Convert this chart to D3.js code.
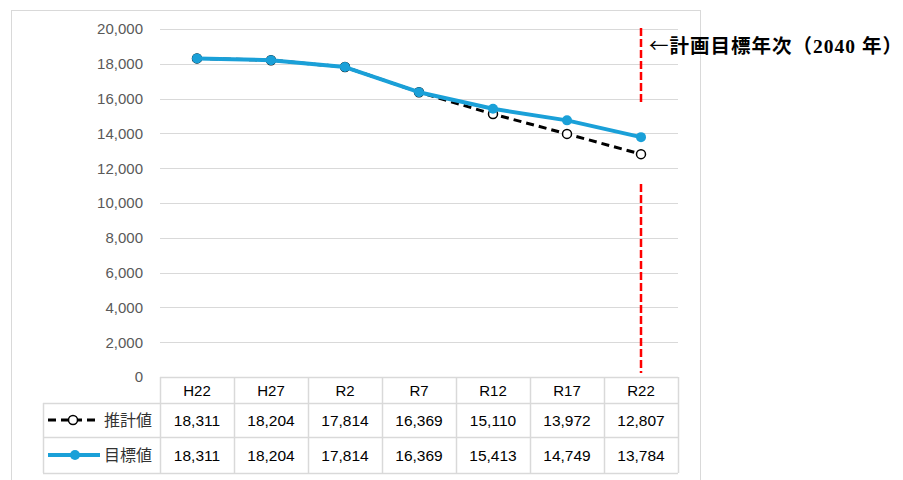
<!DOCTYPE html>
<html>
<head>
<meta charset="utf-8">
<script src="https://cdn.jsdelivr.net/npm/d3@7"></script>
<style>
body { margin: 0; background: #fff; }
text { font-family: "Liberation Sans", Arial, sans-serif; }
</style>
</head>
<body>
<script>
// データ
var categories = ["H22", "H27", "R2", "R7", "R12", "R17", "R22"];
var estimate = [18311, 18204, 17814, 16369, 15110, 13972, 12807]; // 推計値
var target = [18311, 18204, 17814, 16369, 15413, 14749, 13784];   // 目標値
var yTicks = [0, 2000, 4000, 6000, 8000, 10000, 12000, 14000, 16000, 18000, 20000];

var W = 903, H = 480;
var plot = {left: 160, right: 678, top: 29, bottom: 377};

var svg = d3.select("body").append("svg")
  .attr("width", W)
  .attr("height", H);

// 外枠
svg.append("rect")
  .attr("x", 11.5).attr("y", 10.5)
  .attr("width", 689).attr("height", 500)
  .attr("fill", "none").attr("stroke", "#d9d9d9");

var x = d3.scaleBand().domain(categories).range([plot.left, plot.right]);
var y = d3.scaleLinear().domain([0, 20000]).range([plot.bottom, plot.top]);

// グリッド線
svg.append("g").selectAll("line")
  .data(yTicks.filter(function(d) { return d > 0; }))
  .enter().append("line")
  .attr("x1", plot.left).attr("x2", plot.right)
  .attr("y1", function(d) { return Math.round(y(d)) + 0.5; })
  .attr("y2", function(d) { return Math.round(y(d)) + 0.5; })
  .attr("stroke", "#d9d9d9").attr("stroke-width", 1);

// Y軸
var yAxis = d3.axisLeft(y).tickValues(yTicks).tickFormat(d3.format(",")).tickSize(0).tickPadding(0);
var gy = svg.append("g")
  .attr("transform", "translate(143,0)")
  .call(yAxis);
gy.select(".domain").remove();
gy.selectAll("text")
  .attr("fill", "#595959")
  .style("font-size", "15px");

// 計画目標年次の線
var xr = x("R22") + x.bandwidth() / 2;
[[28, 103], [184, 373]].forEach(function(s) {
  svg.append("line")
    .attr("x1", xr).attr("x2", xr)
    .attr("y1", s[0]).attr("y2", s[1])
    .attr("stroke", "#ff0000").attr("stroke-width", 2.5)
    .attr("stroke-dasharray", "8,3");
});

var note = svg.append("text")
  .attr("x", 649).attr("y", 53)
  .style("font-family", "'Liberation Serif', 'Noto Sans CJK JP', serif")
  .style("font-size", "19.5px")
  .style("font-weight", "bold")
  .style("letter-spacing", "1px")
  .attr("fill", "#000");
note.append("tspan")
  .style("font-family", "'Noto Sans CJK JP', sans-serif")
  .style("font-weight", "normal")
  .text("←");
note.append("tspan").text("計画目標年次（2040 年）");

var cx = function(d, i) { return x(categories[i]) + x.bandwidth() / 2; };
var line = d3.line().x(cx).y(function(d) { return y(d); });

// 推計値（破線）
svg.append("path")
  .datum(estimate)
  .attr("d", line)
  .attr("fill", "none")
  .attr("stroke", "#000").attr("stroke-width", 3)
  .attr("stroke-dasharray", "8,5");
svg.append("g").selectAll("circle")
  .data(estimate).enter().append("circle")
  .attr("cx", cx).attr("cy", function(d) { return y(d); })
  .attr("r", 4.5)
  .attr("fill", "#fff").attr("stroke", "#000").attr("stroke-width", 1.5);

// 目標値
var blue = "#1aa0d8";
svg.append("path")
  .datum(target)
  .attr("d", line)
  .attr("fill", "none")
  .attr("stroke", blue).attr("stroke-width", 4)
  .attr("stroke-linejoin", "round");
svg.append("g").selectAll("circle")
  .data(target).enter().append("circle")
  .attr("cx", cx).attr("cy", function(d) { return y(d); })
  .attr("r", 5)
  .attr("fill", blue);

// データテーブル
var rows = [
  {name: "推計値", values: estimate, dashed: true},
  {name: "目標値", values: target, dashed: false}
];
var rowY = [377, 403, 437, 473];
var legendLeft = 43;
var tbl = svg.append("g");
var gridColor = "#d9d9d9";

// 横線
tbl.append("line")
  .attr("x1", plot.left).attr("x2", plot.right)
  .attr("y1", rowY[0] + 0.5).attr("y2", rowY[0] + 0.5)
  .attr("stroke", gridColor).attr("stroke-width", 1.5);
rowY.slice(1).forEach(function(ry) {
  tbl.append("line")
    .attr("x1", legendLeft).attr("x2", plot.right)
    .attr("y1", ry + 0.5).attr("y2", ry + 0.5)
    .attr("stroke", gridColor).attr("stroke-width", 1.5);
});
// 縦線
var vx = categories.map(function(c) { return x(c); }).concat([plot.right]);
vx.forEach(function(v) {
  tbl.append("line")
    .attr("x1", v + 0.5).attr("x2", v + 0.5)
    .attr("y1", rowY[0]).attr("y2", rowY[3])
    .attr("stroke", gridColor).attr("stroke-width", 1.5);
});
tbl.append("line")
  .attr("x1", legendLeft + 0.5).attr("x2", legendLeft + 0.5)
  .attr("y1", rowY[1]).attr("y2", rowY[3])
  .attr("stroke", gridColor).attr("stroke-width", 1.5);

// 見出し
tbl.selectAll("text.cat")
  .data(categories).enter().append("text")
  .attr("class", "cat")
  .attr("x", function(d) { return x(d) + x.bandwidth() / 2; })
  .attr("y", (rowY[0] + rowY[1]) / 2 + 5.5)
  .attr("text-anchor", "middle")
  .style("font-size", "15px")
  .attr("fill", "#000")
  .text(function(d) { return d; });

rows.forEach(function(r, ri) {
  var my = (rowY[ri + 1] + rowY[ri + 2]) / 2;
  tbl.selectAll("text.v" + ri)
    .data(r.values).enter().append("text")
    .attr("class", "v" + ri)
    .attr("x", cx)
    .attr("y", my + 5.5)
    .attr("text-anchor", "middle")
    .style("font-size", "15.5px")
    .attr("fill", "#000")
    .text(function(d) { return d3.format(",")(d); });

  // 凡例
  if (r.dashed) {
    tbl.append("line")
      .attr("x1", 48).attr("x2", 97)
      .attr("y1", my).attr("y2", my)
      .attr("stroke", "#000").attr("stroke-width", 3)
      .attr("stroke-dasharray", "8,5");
    tbl.append("circle")
      .attr("cx", 73).attr("cy", my).attr("r", 4.5)
      .attr("fill", "#fff").attr("stroke", "#000").attr("stroke-width", 1.5);
  } else {
    tbl.append("line")
      .attr("x1", 48).attr("x2", 100)
      .attr("y1", my).attr("y2", my)
      .attr("stroke", blue).attr("stroke-width", 4);
    tbl.append("circle")
      .attr("cx", 75).attr("cy", my).attr("r", 5)
      .attr("fill", blue);
  }
  tbl.append("text")
    .attr("x", 104).attr("y", my + 6)
    .style("font-family", "'Noto Sans CJK JP', sans-serif")
    .style("font-size", "16px")
    .attr("fill", "#333")
    .text(r.name);
});
</script>
</body>
</html>
